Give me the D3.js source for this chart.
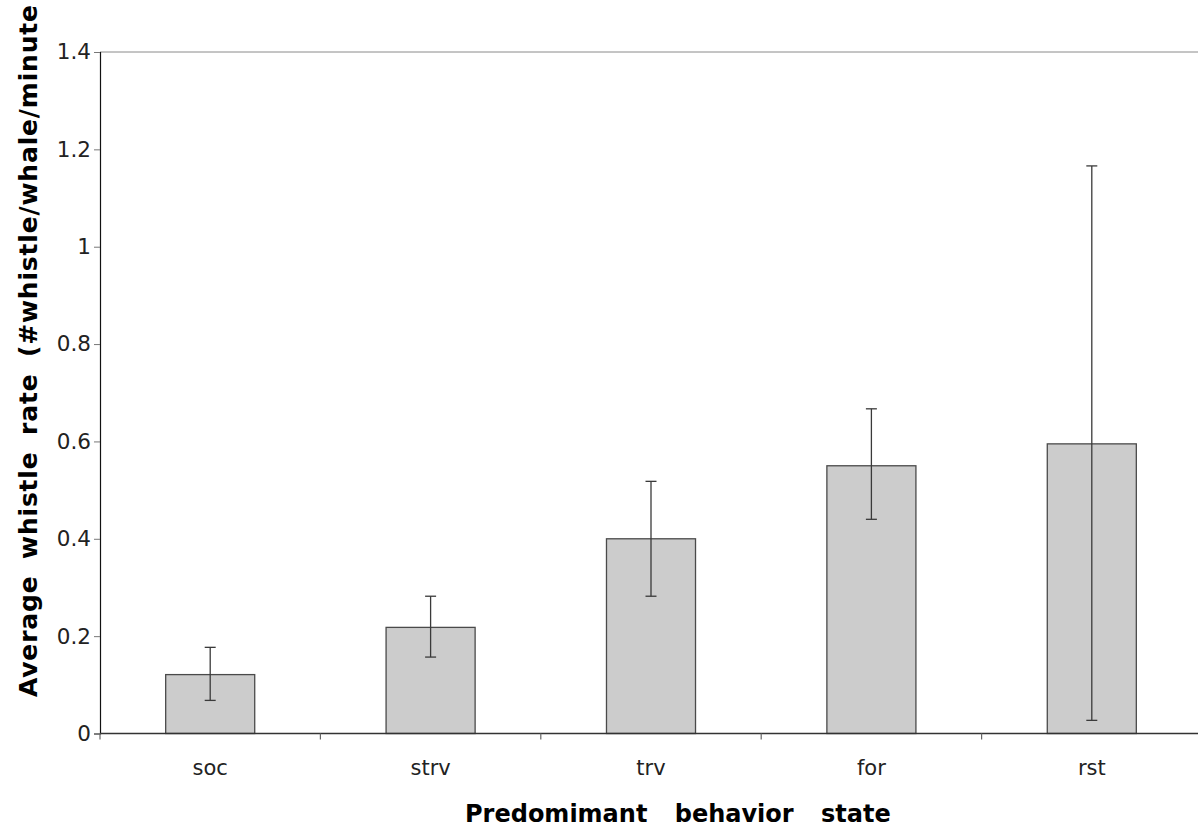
<!DOCTYPE html>
<html>
<head>
<meta charset="utf-8">
<script src="https://cdn.jsdelivr.net/npm/d3@7.9.0/dist/d3.min.js"></script>
<style>
  body { margin: 0; background: #fff; }
  svg { display: block; }
</style>
</head>
<body>
<div id="chart"></div>
<script>
const categories = ["soc", "strv", "trv", "for", "rst"];
const means = [0.121, 0.218, 0.400, 0.550, 0.595];
const errLow = [0.068, 0.157, 0.282, 0.440, 0.027];
const errHigh = [0.177, 0.282, 0.518, 0.667, 1.166];
const yTicks = [0, 0.2, 0.4, 0.6, 0.8, 1, 1.2, 1.4];

const width = 1198;
const height = 830;
const plot = { left: 100, right: 1202, top: 52, bottom: 733.5 };

const rows = categories.map((c, i) => ({
  cat: c, mean: means[i], lo: errLow[i], hi: errHigh[i]
}));

const svg = d3.select("#chart")
  .append("svg")
  .attr("width", width)
  .attr("height", height);

const x = d3.scaleBand()
  .domain(categories)
  .range([plot.left, plot.right])
  .paddingInner(0.596)
  .paddingOuter(0.298);

const y = d3.scaleLinear()
  .domain([0, 1.4])
  .range([plot.bottom, plot.top]);

// top border line
svg.append("line")
  .attr("x1", plot.left).attr("x2", width)
  .attr("y1", y(1.4)).attr("y2", y(1.4))
  .attr("stroke", "#8a8a8a")
  .attr("stroke-width", 1);

// bars
svg.append("g")
  .selectAll("rect")
  .data(rows)
  .join("rect")
  .attr("x", d => x(d.cat))
  .attr("y", d => y(d.mean))
  .attr("width", x.bandwidth())
  .attr("height", d => y(0) - y(d.mean))
  .attr("fill", "#cccccc")
  .attr("stroke", "#4a4a4a")
  .attr("stroke-width", 1.3);

// error bars
const err = svg.append("g")
  .attr("stroke", "#3a3a3a")
  .attr("stroke-width", 1.3);

err.selectAll("line.v")
  .data(rows)
  .join("line")
  .attr("class", "v")
  .attr("x1", d => x(d.cat) + x.bandwidth() / 2)
  .attr("x2", d => x(d.cat) + x.bandwidth() / 2)
  .attr("y1", d => y(d.lo))
  .attr("y2", d => y(d.hi));

for (const key of ["lo", "hi"]) {
  err.selectAll("line.cap-" + key)
    .data(rows)
    .join("line")
    .attr("class", "cap-" + key)
    .attr("x1", d => x(d.cat) + x.bandwidth() / 2 - 5.5)
    .attr("x2", d => x(d.cat) + x.bandwidth() / 2 + 5.5)
    .attr("y1", d => y(d[key]))
    .attr("y2", d => y(d[key]));
}

// y axis
const yAxis = svg.append("g")
  .attr("transform", `translate(${plot.left},0)`)
  .call(d3.axisLeft(y)
    .tickValues(yTicks)
    .tickFormat(d3.format("~g"))
    .tickSize(6)
    .tickPadding(3));

yAxis.select(".domain").attr("stroke", "#111").attr("stroke-width", 1.2);
yAxis.selectAll(".tick line").attr("stroke", "#777");
yAxis.selectAll(".tick text")
  .attr("font-family", "DejaVu Sans")
  .attr("font-size", 21.5)
  .attr("fill", "#222");

// x axis line and boundary ticks
svg.append("line")
  .attr("x1", plot.left).attr("x2", width)
  .attr("y1", y(0)).attr("y2", y(0))
  .attr("stroke", "#333")
  .attr("stroke-width", 1.3);

const step = x.step();
svg.append("g")
  .selectAll("line")
  .data(categories)
  .join("line")
  .attr("x1", (d, i) => plot.left + step * i)
  .attr("x2", (d, i) => plot.left + step * i)
  .attr("y1", y(0))
  .attr("y2", y(0) + 6)
  .attr("stroke", "#666")
  .attr("stroke-width", 1.2);

svg.append("g")
  .selectAll("text")
  .data(categories)
  .join("text")
  .attr("x", d => x(d) + x.bandwidth() / 2)
  .attr("y", 775)
  .attr("text-anchor", "middle")
  .attr("font-family", "DejaVu Sans")
  .attr("font-size", 21)
  .attr("fill", "#222")
  .text(d => d);

// axis titles
svg.append("text")
  .attr("x", 465)
  .attr("y", 822)
  .attr("font-family", "DejaVu Sans")
  .attr("font-weight", "bold")
  .attr("font-size", 24)
  .attr("word-spacing", "19px")
  .attr("fill", "#000")
  .text("Predomimant behavior state");

svg.append("text")
  .attr("transform", "translate(37,697) rotate(-90)")
  .attr("font-family", "DejaVu Sans")
  .attr("font-weight", "bold")
  .attr("font-size", 25)
  .attr("word-spacing", "7px")
  .attr("textLength", 692)
  .attr("lengthAdjust", "spacing")
  .attr("fill", "#000")
  .text("Average whistle rate (#whistle/whale/minute");
</script>
</body>
</html>
